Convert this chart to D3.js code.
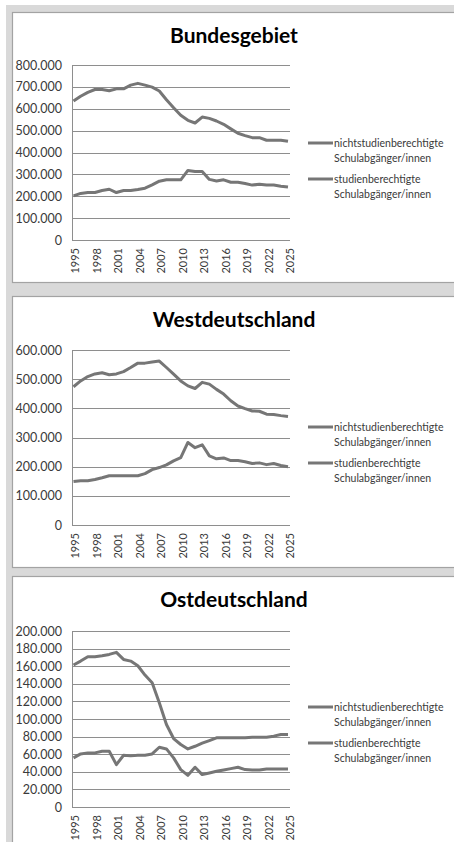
<!DOCTYPE html>
<html>
<head>
<meta charset="utf-8">
<script src="https://cdn.jsdelivr.net/npm/d3@7/dist/d3.min.js"></script>
<style>
  html, body { margin: 0; padding: 0; background: #ffffff; }
  svg { display: block; }
  text { font-family: Lato, "Open Sans", sans-serif; }
</style>
</head>
<body>
<svg id="chart" width="454" height="842"></svg>
<script>
// ---------- data ----------
const years = d3.range(1995, 2026);
const xTickYears = [1995, 1998, 2001, 2004, 2007, 2010, 2013, 2016, 2019, 2022, 2025];
const seriesNames = ["nichtstudienberechtigte Schulabgänger/innen", "studienberechtigte Schulabgänger/innen"];
const titles = ["Bundesgebiet", "Westdeutschland", "Ostdeutschland"];

const bundNicht = [635000, 657000, 675000, 688000, 688000, 682000, 691000, 691000, 708000, 716000, 708000,
  699000, 681000, 641000, 605000, 570000, 547000, 535000, 562000, 556000, 544000, 529000, 508000, 488000,
  477000, 468000, 468000, 456000, 456000, 456000, 451000];
const bundStudien = [202000, 213000, 217000, 217000, 226000, 232000, 217000, 226000, 226000, 231000, 237000,
  252000, 269000, 275000, 275000, 275000, 318000, 313000, 313000, 277000, 270000, 275000, 264000, 264000,
  258000, 251000, 255000, 251000, 251000, 246000, 242000];

const westNicht = [474000, 494000, 509000, 518000, 522000, 515000, 518000, 526000, 540000, 555000, 555000,
  559000, 562000, 540000, 517000, 494000, 477000, 468000, 489000, 483000, 465000, 449000, 426000, 408000,
  399000, 391000, 390000, 380000, 379000, 375000, 372000];
const westStudien = [149000, 152000, 152000, 156000, 162000, 169000, 169000, 169000, 169000, 169000, 176000,
  190000, 197000, 206000, 220000, 231000, 283000, 265000, 275000, 237000, 227000, 230000, 221000, 221000,
  217000, 211000, 213000, 207000, 211000, 204000, 200000];

const ostNicht = [161300, 165800, 170800, 170800, 171900, 173400, 175700, 167700, 165800, 160500, 149900,
  141200, 118400, 93700, 77800, 71000, 66000, 69000, 72500, 75500, 78600, 78600, 78600, 78600,
  78600, 79300, 79300, 79300, 80500, 82400, 82400];
const ostStudien = [55800, 60300, 61500, 61500, 63400, 63400, 48200, 58800, 58100, 58800, 58800,
  60300, 67900, 66000, 55800, 42500, 36000, 45200, 36800, 38700, 40600, 42100, 43600, 45200,
  42500, 42100, 42100, 43300, 43300, 43300, 43300];

const yMaxes = [800000, 600000, 200000];
const yStepsPanel = [100000, 100000, 20000];
const panelSeries = [[bundNicht, bundStudien], [westNicht, westStudien], [ostNicht, ostStudien]];

// ---------- layout ----------
const layout = [
  { top: 12, bottom: 282, plotTop: 65, plotBottom: 240 },
  { top: 296, bottom: 567, plotTop: 350, plotBottom: 525 },
  { top: 576, bottom: 860, plotTop: 631, plotBottom: 807 }
];
const plotLeft = 72, plotRight = 290;
const lineColor = "#767676";
const gridColor = "#8e8e8e";
const textColor = "#3a3a3a";

const de = d3.formatLocale({ decimal: ",", thousands: ".", grouping: [3], currency: ["", " €"] });
const fmt = de.format(",");

const svg = d3.select("#chart");

// page background
svg.append("rect").attr("x", 6).attr("y", 5).attr("width", 448).attr("height", 837).attr("fill", "#d9d9d9");

const x = d3.scaleLinear().domain([1995, 2025]).range([73.5, 288]);

titles.forEach((title, i) => {
  const L = layout[i];
  const g = svg.append("g");

  g.append("rect")
    .attr("x", 12.5).attr("y", L.top + 0.5)
    .attr("width", 460).attr("height", L.bottom - L.top)
    .attr("fill", "#ffffff").attr("stroke", "#a3a3a3").attr("stroke-width", 1.2);

  g.append("text")
    .attr("x", 234).attr("y", L.top + 31)
    .attr("text-anchor", "middle")
    .attr("font-size", 21).attr("font-weight", 700).attr("fill", "#000")
    .text(title);

  const y = d3.scaleLinear().domain([0, yMaxes[i]]).range([L.plotBottom, L.plotTop]);
  const ticks = d3.range(0, yMaxes[i] + 1, yStepsPanel[i]);

  // gridlines
  g.append("g").selectAll("line").data(ticks).join("line")
    .attr("x1", plotLeft).attr("x2", plotRight)
    .attr("y1", d => Math.round(y(d)) + 0.5).attr("y2", d => Math.round(y(d)) + 0.5)
    .attr("stroke", gridColor).attr("stroke-width", 1);

  // y axis line
  g.append("line")
    .attr("x1", plotLeft + 0.5).attr("x2", plotLeft + 0.5)
    .attr("y1", L.plotTop).attr("y2", L.plotBottom + 0.5)
    .attr("stroke", gridColor).attr("stroke-width", 1);

  // y tick labels
  g.append("g").selectAll("text").data(ticks).join("text")
    .attr("x", 62).attr("y", d => y(d)).attr("dy", "0.36em")
    .attr("text-anchor", "end").attr("font-size", 12.5).attr("fill", textColor)
    .text(d => fmt(d));

  // x tick labels (rotated)
  g.append("g").selectAll("text").data(xTickYears).join("text")
    .attr("transform", d => `translate(${x(d) + 2},${L.plotBottom + 8}) rotate(-90)`)
    .attr("text-anchor", "end").attr("dy", "0.36em")
    .attr("font-size", 11).attr("fill", textColor)
    .text(d => d);

  // lines
  const line = d3.line().x((d, j) => x(years[j])).y(d => y(d));
  panelSeries[i].forEach(vals => {
    g.append("path").datum(vals)
      .attr("d", line)
      .attr("fill", "none").attr("stroke", lineColor)
      .attr("stroke-width", 3).attr("stroke-linejoin", "round");
  });

  // legend
  const legOffsets = [131, 167];
  seriesNames.forEach((name, k) => {
    const ly = L.top + legOffsets[k];
    g.append("line")
      .attr("x1", 308).attr("x2", 333).attr("y1", ly).attr("y2", ly)
      .attr("stroke", lineColor).attr("stroke-width", 3);
    const parts = name.split(" ");
    g.append("text").attr("x", 334).attr("y", ly + 4)
      .attr("font-size", 10.5).attr("fill", textColor).text(parts[0]);
    g.append("text").attr("x", 334).attr("y", ly + 19)
      .attr("font-size", 10.5).attr("fill", textColor).text(parts[1]);
  });
});
</script>
</body>
</html>
